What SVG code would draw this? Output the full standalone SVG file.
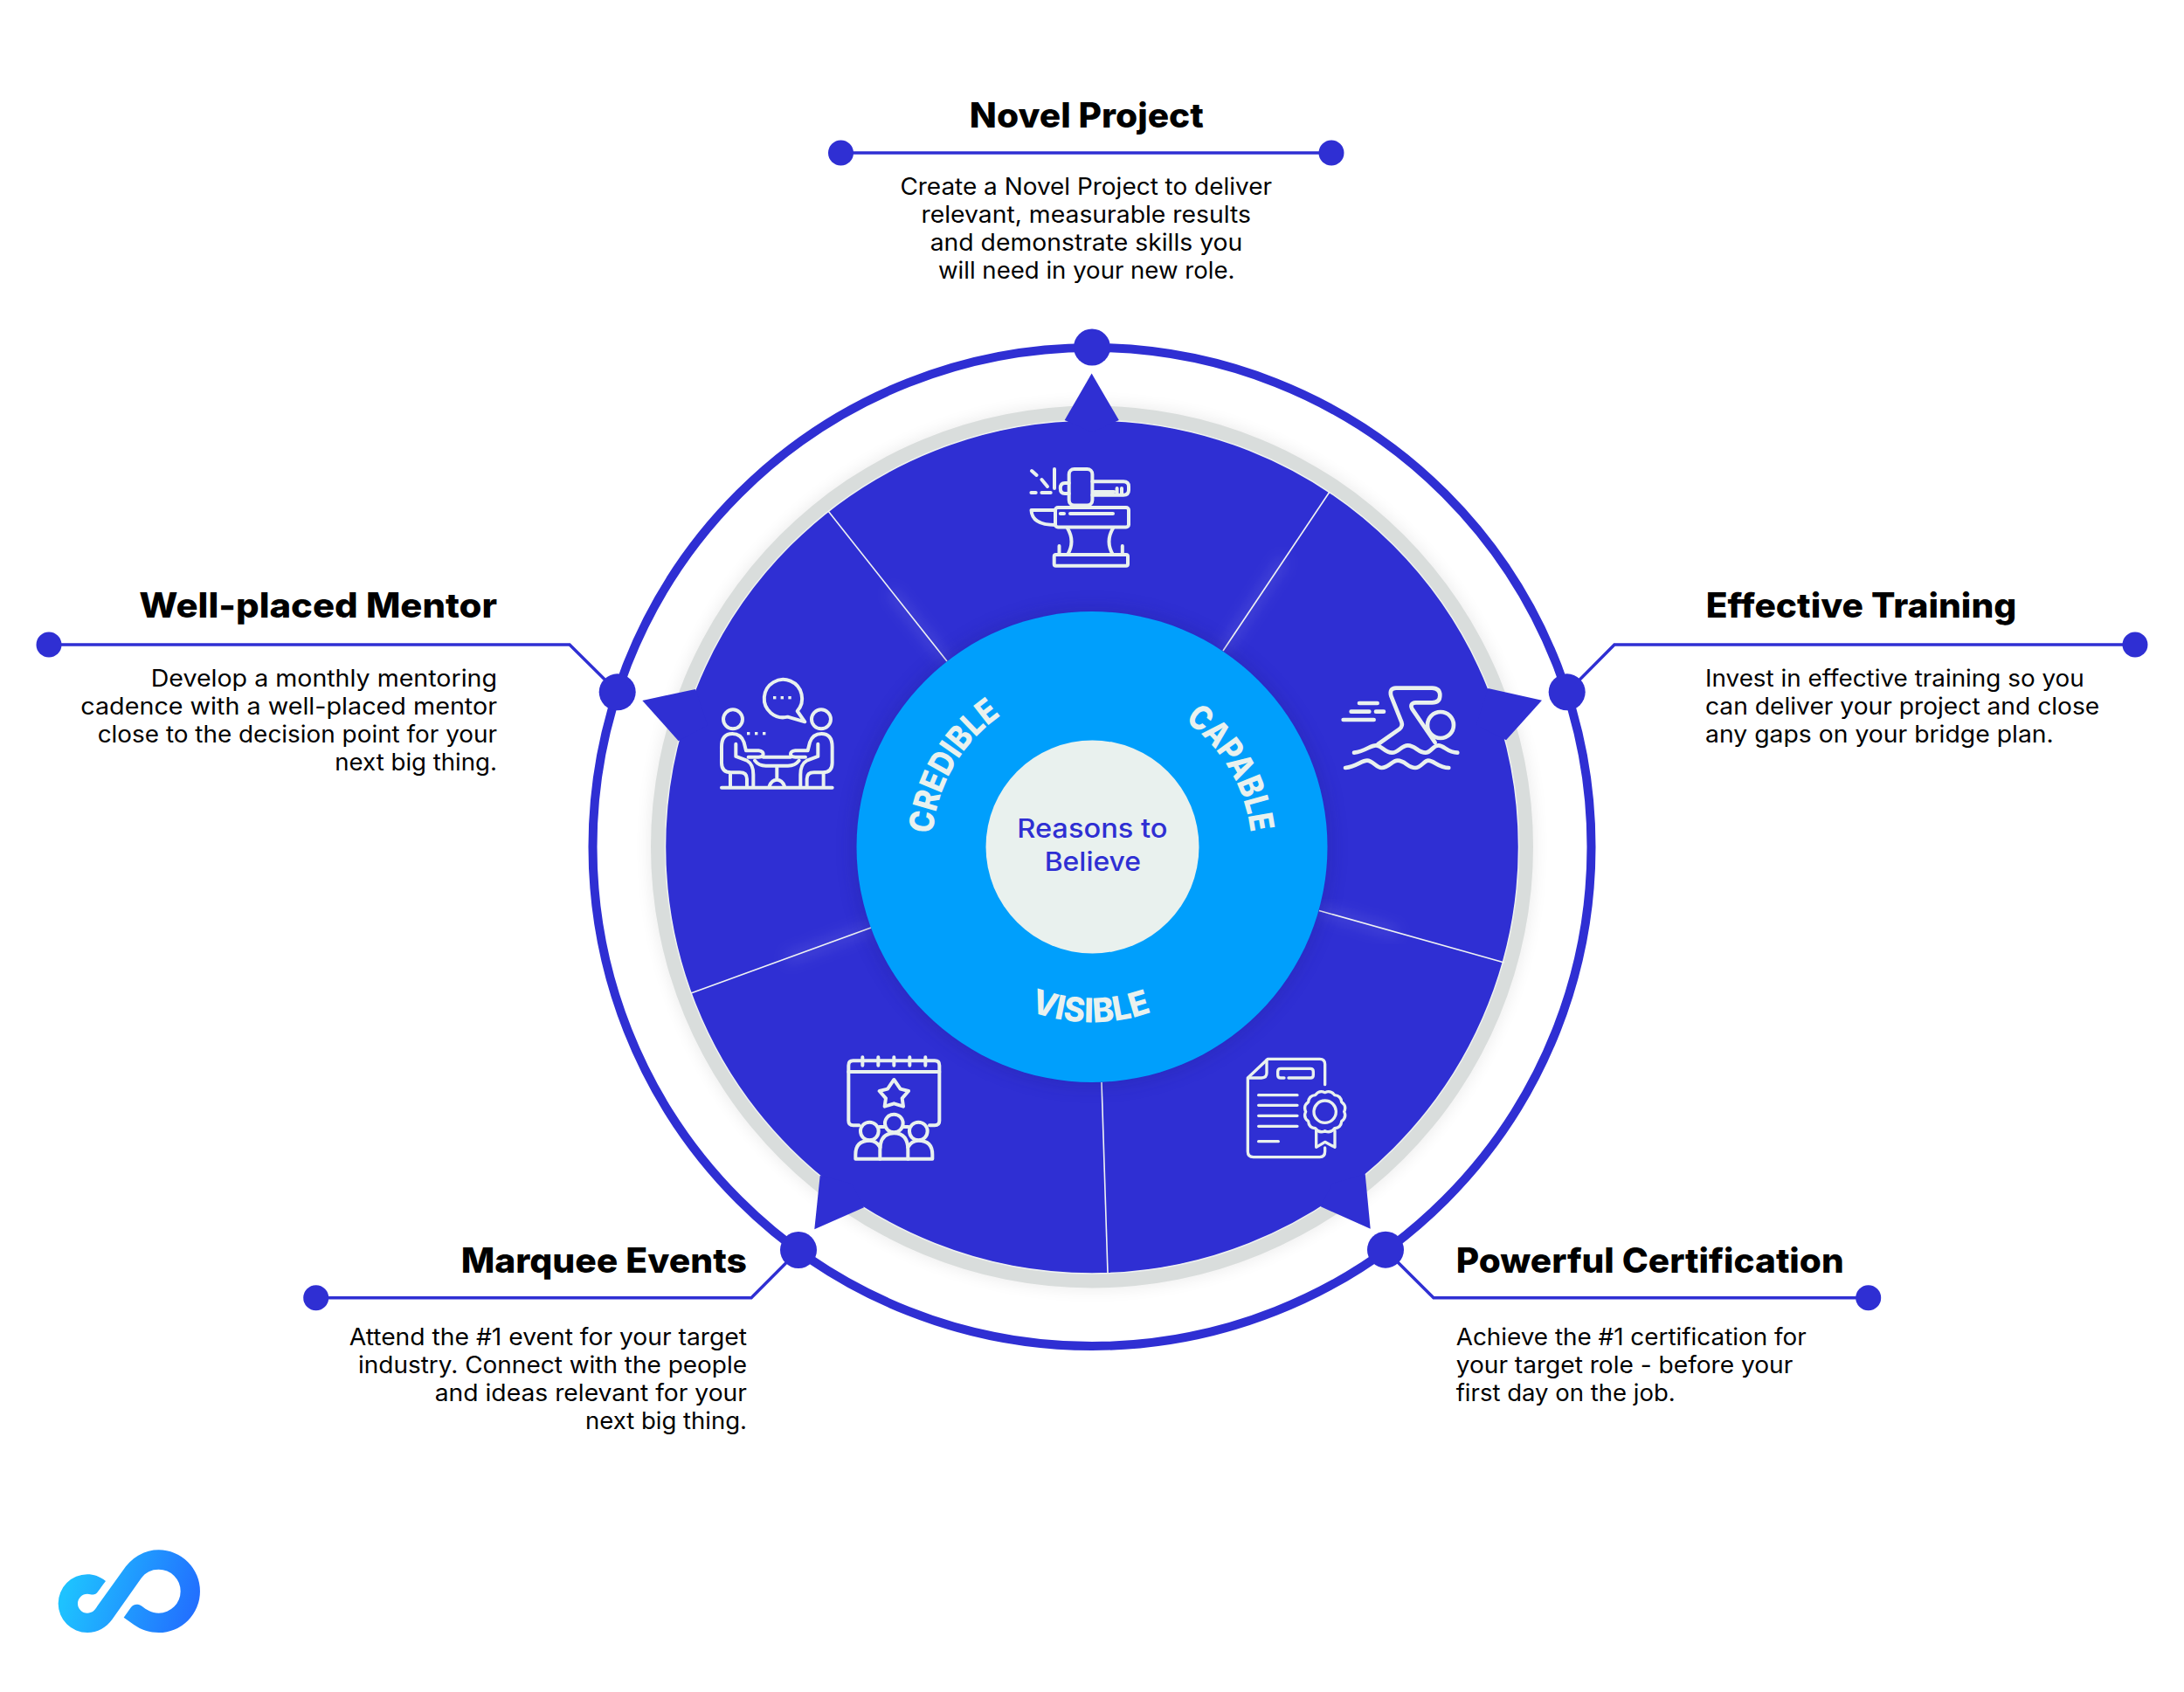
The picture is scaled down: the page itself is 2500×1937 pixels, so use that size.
<svg xmlns="http://www.w3.org/2000/svg" width="2500" height="1937" viewBox="0 0 2500 1937">
<style>
.title{font-family:Inter,"Liberation Sans",sans-serif;font-weight:800;font-size:39px;fill:#000}
.body{font-family:Inter,"Liberation Sans",sans-serif;font-weight:400;font-size:26.5px;fill:#000}
.arc{font-family:Inter,"Liberation Sans",sans-serif;font-weight:800;font-size:38.5px;fill:#E9F1EE}
.center{font-family:Inter,"Liberation Sans",sans-serif;font-weight:500;font-size:30px;fill:#2F2FD3}
.blue{fill:#2F2FD3}
.wire{fill:none;stroke:#2F2FD3;stroke-width:3.5}
.icon{fill:none;stroke:#E9F1EE;stroke-linecap:round;stroke-linejoin:round}
.divider{stroke:#F0F3F3;stroke-width:1.6;fill:none}
.glow{stroke:#fff;stroke-opacity:.12;stroke-width:10;fill:none;filter:url(#b8)}
</style>
<defs>
<filter id="b8" x="-50%" y="-50%" width="200%" height="200%"><feGaussianBlur stdDeviation="8"/></filter>
<filter id="b10" x="-10%" y="-10%" width="120%" height="120%"><feGaussianBlur stdDeviation="9"/></filter>
<clipPath id="disc"><circle cx="1250" cy="969.5" r="488"/></clipPath>
<linearGradient id="logo" gradientUnits="userSpaceOnUse" x1="120" y1="170" x2="540" y2="300"><stop offset="0" stop-color="#1EC2FF"/><stop offset="1" stop-color="#2270FF"/></linearGradient>
<path id="pCredible" d="M1067.6,954.8 A183,183 0 0 1 1158.5,811"/>
<path id="pCapable" d="M1356,825 A183,183 0 0 1 1432.3,985.4"/>
<path id="pVisible" d="M1179,1157.500 A201,201 0 0 0 1342,1148"/>
</defs>
<rect width="2500" height="1937" fill="#fff"/>

<g id="connectors">
<path class="wire" d="M962,175 H1524"/>
<path class="wire" d="M56,738 H652 L707,792.500"/>
<path class="wire" d="M2444,738 H1848 L1794,792.500"/>
<path class="wire" d="M362,1485.700 H860 L914,1431.500"/>
<path class="wire" d="M2139,1485.700 H1641 L1586,1431"/>
</g>

<g id="wheel">
<circle cx="1250" cy="969.500" r="507" fill="#000" opacity=".07" filter="url(#b10)"/>
<circle cx="1250" cy="969.500" r="571.500" fill="none" stroke="#2F2FD3" stroke-width="10"/>
<circle cx="1250" cy="969.500" r="505" fill="#D9DDDC"/>
<circle cx="1250" cy="969.500" r="488.500" fill="#2F2FD3" stroke="#EEF1F1" stroke-width="1.500"/>
<g clip-path="url(#disc)">
<path class="glow" d="M1400,745 L1470,640"/>
<path class="glow" d="M1510,1042 L1600,1068"/>
<path class="glow" d="M997,1062 L900,1098"/>
<path class="glow" d="M1084,757 L1020,677"/>
</g>
<path class="divider" d="M948,585 L1084,757"/>
<path class="divider" d="M1522,563 L1400,745"/>
<path class="divider" d="M1722,1102 L1510,1042.500"/>
<path class="divider" d="M1268,1457 L1261,1239"/>
<path class="divider" d="M791,1137 L997,1062"/>
<circle cx="1250" cy="969.500" r="276" fill="#1d1f8a" opacity=".22" filter="url(#b10)" clip-path="url(#disc)"/>
<circle cx="1250" cy="969.500" r="269.500" fill="#009FFC"/>
<circle id="center" cx="1250.500" cy="969.500" r="122" fill="#E9F1EE"/>
<text class="center" x="1164.200" y="959.300" textLength="172.400" lengthAdjust="spacingAndGlyphs">Reasons to</text>
<text class="center" x="1195.700" y="996.800" textLength="110.300" lengthAdjust="spacingAndGlyphs">Believe</text>
<text class="arc"><textPath href="#pCredible" textLength="162" lengthAdjust="spacingAndGlyphs">CREDIBLE</textPath></text>
<text class="arc"><textPath href="#pCapable" textLength="153" lengthAdjust="spacingAndGlyphs">CAPABLE</textPath></text>
<text class="arc"><textPath href="#pVisible" textLength="142" lengthAdjust="spacingAndGlyphs">VISIBLE</textPath></text>
</g>

<g id="novel-project">
<circle class="blue" cx="962.500" cy="175" r="14.500"/><circle class="blue" cx="1524" cy="175" r="14.500"/>
<circle class="blue" cx="1250" cy="397.500" r="21"/>
<polygon class="blue" points="1249.600,427.600 1218.700,481 1250,495 1280.800,481"/>
<text class="title" x="1109.800" y="146" textLength="268" lengthAdjust="spacingAndGlyphs">Novel Project</text>
<text class="body" x="1030.400" y="223" textLength="425.600" lengthAdjust="spacingAndGlyphs">Create a Novel Project to deliver</text>
<text class="body" x="1054.500" y="255" textLength="377.500" lengthAdjust="spacingAndGlyphs">relevant, measurable results</text>
<text class="body" x="1064.700" y="287" textLength="357.600" lengthAdjust="spacingAndGlyphs">and demonstrate skills you</text>
<text class="body" x="1074" y="319" textLength="339.400" lengthAdjust="spacingAndGlyphs">will need in your new role.</text>
<g class="icon" stroke-width="4">
<rect x="1223.700" y="537" width="26.700" height="41.600" rx="6"/>
<path d="M1250.400,551.300 H1286 Q1292,551.300 1292,557 V561 Q1292,566.700 1286,566.700 H1250.400"/>
<path d="M1223.700,553 H1219 Q1213.800,553 1213.800,559 Q1213.800,565 1219,565 H1223.700"/>
<path d="M1278.600,559 V566 M1284,559 V566 M1252.700,563 H1275"/>
<rect x="1208" y="581" width="84" height="22.500" rx="3"/>
<path d="M1208,584 H1180.500 C1181,595 1190,601 1208,601"/>
<path d="M1213.800,588 H1218 M1225,588 H1274"/>
<path d="M1222,604.700 Q1231,620 1222,635 M1274,604.700 Q1265,620 1274,635"/>
<rect x="1206.700" y="635" width="84.300" height="12.800" rx="2"/>
<path d="M1212.500,625 V635 M1284.800,625 V635"/>
<path d="M1181,539 L1186.600,544 M1192.400,549 L1199,557 M1207,537 V559 M1180.400,564 H1185.700 M1192.400,564 H1202.700"/>
</g>
</g>

<g id="effective-training">
<circle class="blue" cx="2444" cy="738" r="14.500"/>
<circle class="blue" cx="1793.700" cy="792.300" r="21"/>
<polygon class="blue" points="1765,801.700 1703.300,788 1690,830 1724,847.300"/>
<text class="title" x="1952.700" y="706.700" textLength="355.600" lengthAdjust="spacingAndGlyphs">Effective Training</text>
<text class="body" x="1952" y="786" textLength="433.700" lengthAdjust="spacingAndGlyphs">Invest in effective training so you</text>
<text class="body" x="1952" y="818" textLength="451.300" lengthAdjust="spacingAndGlyphs">can deliver your project and close</text>
<text class="body" x="1952" y="850" textLength="398.700" lengthAdjust="spacingAndGlyphs">any gaps on your bridge plan.</text>
<g class="icon" stroke-width="14" transform="translate(1450 640) scale(.3333)">
<path d="M382,636 L456,584 Q468,574 463,560 L427,470 Q420,444 444,443 H568 Q595,444 595,468 Q595,493 568,493 H512 Q490,495 499,514 L578,630"/>
<circle cx="597" cy="570" r="45"/>
<path d="M318,495 H380 M290,524 H352 M375,524 H402 M263,552 H368"/>
<path d="M300,665 C340,660 355,640 375,640 C395,640 405,665 430,665 C455,665 460,640 485,640 C510,640 520,665 545,665 C565,665 570,640 590,640 C610,640 620,665 655,665"/>
<path d="M270,717 C310,712 325,692 345,692 C365,692 375,717 395,717 C420,717 430,692 450,692 C475,692 485,717 510,717 C530,717 540,692 555,692 C575,692 590,717 625,717"/>
</g>
</g>

<g id="powerful-certification">
<circle class="blue" cx="2138.700" cy="1485.700" r="14.500"/>
<circle class="blue" cx="1586" cy="1430.700" r="21"/>
<polygon class="blue" points="1568.700,1406.700 1562.700,1344 1525,1355 1511.700,1381.300"/>
<text class="title" x="1666.700" y="1456.700" textLength="444" lengthAdjust="spacingAndGlyphs">Powerful Certification</text>
<text class="body" x="1666.700" y="1540" textLength="401" lengthAdjust="spacingAndGlyphs">Achieve the #1 certification for</text>
<text class="body" x="1666.700" y="1572" textLength="385.600" lengthAdjust="spacingAndGlyphs">your target role - before your</text>
<text class="body" x="1666.700" y="1604" textLength="251" lengthAdjust="spacingAndGlyphs">first day on the job.</text>
<g class="icon" stroke-width="10" transform="translate(1380 1160) scale(.3333)">
<path d="M410,245 V175 Q410,157 392,157 H214 L145,222 V475 Q145,494 164,494 H392 Q410,494 410,475 V462"/>
<path d="M210,160 V205 Q210,222 192,222 H147"/>
<path d="M270,222 H258 Q248,222 248,212 V200 Q248,190 258,190 H360 Q370,190 370,200 V212 Q370,222 360,222 H285"/>
<path d="M182,281 H315 M182,316 H315 M182,352 H315 M182,388 H315 M182,440 H250"/>
<circle cx="410" cy="338" r="38"/>
<path d="M476,338 Q485.300,358.200 467.200,371 Q465.200,393.200 443,395.200 Q430.200,413.300 410,404 Q389.800,413.300 377,395.200 Q354.800,393.200 352.800,371 Q334.700,358.200 344,338 Q334.700,317.800 352.800,305 Q354.800,282.800 377,280.800 Q389.800,262.700 410,272 Q430.200,262.700 443,280.800 Q465.200,282.800 467.200,305 Q485.300,317.800 476,338 Z"/>
<path d="M380,403 V460 L410,442 L444,460 V403"/>
</g>
</g>

<g id="marquee-events">
<circle class="blue" cx="361.700" cy="1485.700" r="14.500"/>
<circle class="blue" cx="914" cy="1431" r="21"/>
<polygon class="blue" points="932.300,1407.300 938.700,1345.700 975,1355 989,1382.300"/>
<text class="title" x="527.700" y="1456.700" textLength="327.300" lengthAdjust="spacingAndGlyphs">Marquee Events</text>
<text class="body" x="399.700" y="1540" textLength="455.300" lengthAdjust="spacingAndGlyphs">Attend the #1 event for your target</text>
<text class="body" x="410" y="1572" textLength="445" lengthAdjust="spacingAndGlyphs">industry. Connect with the people</text>
<text class="body" x="497.700" y="1604" textLength="357.300" lengthAdjust="spacingAndGlyphs">and ideas relevant for your</text>
<text class="body" x="670" y="1636" textLength="185" lengthAdjust="spacingAndGlyphs">next big thing.</text>
<g class="icon" stroke-width="12" transform="translate(900 1150) scale(.3333)">
<path d="M250,415 H230 Q214,415 214,399 V209 Q214,193 230,193 H510 Q526,193 526,209 V399 Q526,415 510,415 H492"/>
<path d="M214,231 H526 M262,181 V209 M316,181 V209 M370,181 V209 M424,181 V209 M478,181 V209"/>
<polygon points="370,258 392,290 420,297 398,322 402,350 370,340 338,350 342,322 320,297 348,290"/>
<path d="M320,420 H338 M402,420 H420"/>
<circle cx="286" cy="435" r="31"/><circle cx="370" cy="408" r="31"/><circle cx="454" cy="435" r="31"/>
<path d="M322,530 V500 Q322,442 370,442 Q418,442 418,500 V530"/>
<path d="M322,490 Q310,467 286,467 Q238,467 238,515 V530 H502 V515 Q502,467 454,467 Q430,467 418,490"/>
</g>
</g>

<g id="well-placed-mentor">
<circle class="blue" cx="56" cy="738" r="14.500"/>
<circle class="blue" cx="706.700" cy="792.300" r="21"/>
<polygon class="blue" points="735.300,802 796,789 810,830 776.700,848.300"/>
<text class="title" x="159.300" y="707.300" textLength="409.700" lengthAdjust="spacingAndGlyphs">Well-placed Mentor</text>
<text class="body" x="172.700" y="786" textLength="396.300" lengthAdjust="spacingAndGlyphs">Develop a monthly mentoring</text>
<text class="body" x="92.300" y="818" textLength="476.700" lengthAdjust="spacingAndGlyphs">cadence with a well-placed mentor</text>
<text class="body" x="111.700" y="850" textLength="457.300" lengthAdjust="spacingAndGlyphs">close to the decision point for your</text>
<text class="body" x="383.300" y="882" textLength="185.700" lengthAdjust="spacingAndGlyphs">next big thing.</text>
<g class="icon" stroke-width="12" transform="translate(680 700) scale(.3333)">
<path d="M665,362 A65,65 0 1 1 698,342 L724,379 Z"/>
<circle cx="477" cy="370" r="33"/><circle cx="780" cy="370" r="33"/>
<path d="M438,605 H818"/>
<path d="M487,455 V498 L525,512 Q547,525 547,560 V600"/>
<path d="M525,600 V575 Q525,553 500,553 H470 Q438,553 438,520 V465 Q438,420 475,420 Q505,420 515,450 L522,478 H565 Q581,480 581,490 Q581,500 565,500 H530"/>
<path d="M468,555 V600"/>
<path d="M769,455 V498 L731,512 Q709,525 709,560 V600"/>
<path d="M731,600 V575 Q731,553 756,553 H786 Q818,553 818,520 V465 Q818,420 781,420 Q751,420 741,450 L734,478 H691 Q675,480 675,490 Q675,500 691,500 H726"/>
<path d="M788,555 V600"/>
<path d="M581,500 H675 M552,512 Q565,530 590,530 H666 Q691,530 704,512 M628,530 V575 M602,600 Q610,578 628,578 Q646,578 654,600"/>
</g>
<g fill="#E9F1EE">
<rect x="885" y="797" width="3.400" height="3.400"/><rect x="893.600" y="797" width="3.400" height="3.400"/><rect x="902.300" y="797" width="3.400" height="3.400"/>
<rect x="855" y="838" width="3.400" height="3.400"/><rect x="864" y="838" width="3.400" height="3.400"/><rect x="873" y="838" width="3.400" height="3.400"/>
</g>
</g>

<g id="logo-mark" transform="translate(40 1750) scale(.3333)">
<path fill="url(#logo)" d="M243,180 C222,164 202,157 180,157 A100,100 0 1 0 180,357 C215,357 245,340 265,312 L365,170 C380,150 400,140 425,140 A75,75 0 1 1 425,290 C400,290 385,280 365,265 C350,257 340,260 330,270 L305,305 L340,330 C365,348 395,357 425,357 A142,142 0 1 0 425,73 C380,73 340,95 312,130 L215,265 C205,283 195,290 180,290 A33,33 0 1 1 180,224 C190,224 195,228 203,226 C212,226 218,213 243,180 Z"/>
</g>
</svg>
